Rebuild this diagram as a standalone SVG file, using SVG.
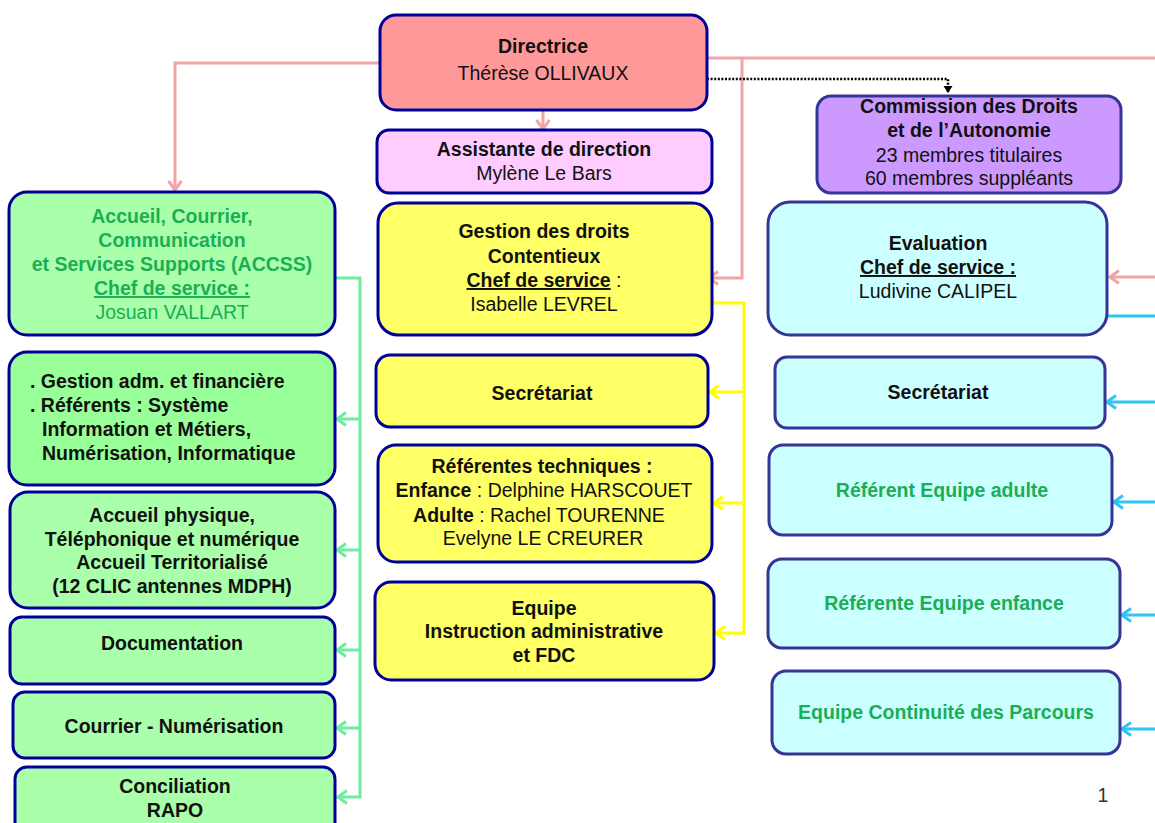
<svg xmlns="http://www.w3.org/2000/svg" width="1155" height="823" viewBox="0 0 1155 823">
<defs>
<style>
text{font-family:"Liberation Sans",Arial,sans-serif;font-size:19.5px;fill:#111}
.b{font-weight:bold}
.c{text-anchor:middle}
.g{fill:#1AAE55}
.u{text-decoration:underline}
.box{stroke:#000099;stroke-width:3}
.box2{stroke:#353597;stroke-width:3}
.red{fill:#FF9999}.pink{fill:#FFCCFF}.vio{fill:#CC99FF}
.gr{fill:#AAFFAA}.gr2{fill:#99FF99}.ye{fill:#FFFF66}.cy{fill:#CCFFFF}
.cn{fill:none;stroke-width:3}
.cp{stroke:#F5A3A3}.cg{stroke:#70EC9E}.cyl{stroke:#FFFF00}.cb{stroke:#2EC4F5}
</style>
<marker id="ap" viewBox="-12 -8 14 16" refX="0" refY="0" markerUnits="userSpaceOnUse" markerWidth="14" markerHeight="16" orient="auto"><path d="M-9,-6.5 L0,0 L-9,6.5" fill="none" stroke="#F5A3A3" stroke-width="3"/></marker>
<marker id="ag" viewBox="-12 -8 14 16" refX="0" refY="0" markerUnits="userSpaceOnUse" markerWidth="14" markerHeight="16" orient="auto"><path d="M-9,-6.5 L0,0 L-9,6.5" fill="none" stroke="#70EC9E" stroke-width="3"/></marker>
<marker id="ay" viewBox="-12 -8 14 16" refX="0" refY="0" markerUnits="userSpaceOnUse" markerWidth="14" markerHeight="16" orient="auto"><path d="M-9,-6.5 L0,0 L-9,6.5" fill="none" stroke="#FFFF00" stroke-width="3"/></marker>
<marker id="ab" viewBox="-12 -8 14 16" refX="0" refY="0" markerUnits="userSpaceOnUse" markerWidth="14" markerHeight="16" orient="auto"><path d="M-9,-6.5 L0,0 L-9,6.5" fill="none" stroke="#2EC4F5" stroke-width="3"/></marker>
<marker id="ak" viewBox="-10 -6 12 12" refX="0" refY="0" markerUnits="userSpaceOnUse" markerWidth="12" markerHeight="12" orient="auto"><path d="M-7,-4.5 L0,0 L-7,4.5 Z" fill="#000"/></marker>
</defs>
<rect width="1155" height="823" fill="#fff"/>

<g id="connectors">
<path class="cn cp" d="M380,63 H175 V190" marker-end="url(#ap)"/>
<path class="cn cp" d="M543,110 V129" marker-end="url(#ap)"/>
<path class="cn cp" d="M707,58 H1155"/>
<path class="cn cp" d="M742,58 V278 H709" marker-end="url(#ap)"/>
<path class="cn cp" d="M1155,277 H1110" marker-end="url(#ap)"/>
<path d="M707,79 H948 V93" fill="none" stroke="#000" stroke-width="2.5" stroke-dasharray="2,1.6" marker-end="url(#ak)"/>
<path class="cn cg" d="M335,278 H360 V797 H338" marker-end="url(#ag)"/>
<path class="cn cg" d="M360,419 H337" marker-end="url(#ag)"/>
<path class="cn cg" d="M360,550 H337" marker-end="url(#ag)"/>
<path class="cn cg" d="M360,650 H337" marker-end="url(#ag)"/>
<path class="cn cg" d="M360,728 H337" marker-end="url(#ag)"/>
<path class="cn cyl" d="M712,303 H744 V633 H716" marker-end="url(#ay)"/>
<path class="cn cyl" d="M744,392 H710" marker-end="url(#ay)"/>
<path class="cn cyl" d="M744,503 H714" marker-end="url(#ay)"/>
<path class="cn cb" d="M1107,316 H1155"/>
<path class="cn cb" d="M1155,402 H1107" marker-end="url(#ab)"/>
<path class="cn cb" d="M1155,502 H1114" marker-end="url(#ab)"/>
<path class="cn cb" d="M1155,615 H1122" marker-end="url(#ab)"/>
<path class="cn cb" d="M1155,729 H1122" marker-end="url(#ab)"/>
</g>

<g id="directrice">
<rect class="box red" x="380" y="15" width="327" height="95" rx="16"/>
<text class="c b" x="543" y="53">Directrice</text>
<text class="c" x="543" y="80">Thérèse OLLIVAUX</text>
</g>

<g id="assistante">
<rect class="box pink" x="377" y="130" width="335" height="63" rx="12"/>
<text class="c b" x="544" y="156">Assistante de direction</text>
<text class="c" x="544" y="180">Mylène Le Bars</text>
</g>

<g id="commission">
<rect class="box2 vio" x="817" y="96" width="304" height="97" rx="14"/>
<text class="c b" x="969" y="113">Commission des Droits</text>
<text class="c b" x="969" y="137">et de l’Autonomie</text>
<text class="c" x="969" y="162">23 membres titulaires</text>
<text class="c" x="969" y="185">60 membres suppléants</text>
</g>

<g id="accss">
<rect class="box gr" x="9" y="192" width="326" height="143" rx="18"/>
<text class="c b g" x="172" y="223">Accueil, Courrier,</text>
<text class="c b g" x="172" y="247">Communication</text>
<text class="c b g" x="172" y="271">et Services Supports (ACCSS)</text>
<text class="c b g u" x="172" y="295">Chef de service :</text>
<text class="c g" x="172" y="319">Josuan VALLART</text>
</g>

<g id="gestion-adm">
<rect class="box gr2" x="9" y="352" width="326" height="133" rx="18"/>
<text class="b" x="30" y="388">. Gestion adm. et financière</text>
<text class="b" x="30" y="412">. Référents : Système</text>
<text class="b" x="42" y="436">Information et Métiers,</text>
<text class="b" x="42" y="460">Numérisation, Informatique</text>
</g>

<g id="accueil-physique">
<rect class="box gr" x="10" y="492" width="325" height="116" rx="18"/>
<text class="c b" x="172" y="522">Accueil physique,</text>
<text class="c b" x="172" y="546">Téléphonique et numérique</text>
<text class="c b" x="172" y="569">Accueil Territorialisé</text>
<text class="c b" x="172" y="593">(12 CLIC antennes MDPH)</text>
</g>

<g id="documentation">
<rect class="box gr" x="10" y="617" width="325" height="67" rx="12"/>
<text class="c b" x="172" y="650">Documentation</text>
</g>

<g id="courrier">
<rect class="box gr" x="13" y="692" width="322" height="66" rx="12"/>
<text class="c b" x="174" y="733">Courrier - Numérisation</text>
</g>

<g id="conciliation">
<rect class="box gr" x="15" y="767" width="320" height="80" rx="12"/>
<text class="c b" x="175" y="793">Conciliation</text>
<text class="c b" x="175" y="817">RAPO</text>
</g>

<g id="gestion-droits">
<rect class="box ye" x="378" y="203" width="334" height="132" rx="20"/>
<text class="c b" x="544" y="238">Gestion des droits</text>
<text class="c b" x="544" y="263">Contentieux</text>
<text class="c" x="544" y="287"><tspan class="b u">Chef de service</tspan> :</text>
<text class="c" x="544" y="311">Isabelle LEVREL</text>
</g>

<g id="secretariat-gd">
<rect class="box ye" x="376" y="355" width="332" height="72" rx="14"/>
<text class="c b" x="542" y="400">Secrétariat</text>
</g>

<g id="referentes">
<rect class="box ye" x="378" y="445" width="334" height="117" rx="18"/>
<text class="c b" x="542" y="473">Référentes techniques :</text>
<text class="c" x="544" y="497"><tspan class="b">Enfance</tspan> : Delphine HARSCOUET</text>
<text class="c" x="539" y="522"><tspan class="b">Adulte</tspan> : Rachel TOURENNE</text>
<text class="c" x="543" y="545">Evelyne LE CREURER</text>
</g>

<g id="equipe-instruction">
<rect class="box ye" x="375" y="582" width="339" height="98" rx="16"/>
<text class="c b" x="544" y="615">Equipe</text>
<text class="c b" x="544" y="638">Instruction administrative</text>
<text class="c b" x="544" y="662">et FDC</text>
</g>

<g id="evaluation">
<rect class="box2 cy" x="768" y="202" width="339" height="133" rx="22"/>
<text class="c b" x="938" y="250">Evaluation</text>
<text class="c b u" x="938" y="274">Chef de service :</text>
<text class="c" x="938" y="298">Ludivine CALIPEL</text>
</g>

<g id="secretariat-eval">
<rect class="box2 cy" x="775" y="357" width="330" height="71" rx="12"/>
<text class="c b" x="938" y="399">Secrétariat</text>
</g>

<g id="referent-adulte">
<rect class="box2 cy" x="769" y="445" width="343" height="90" rx="14"/>
<text class="c b g" x="942" y="497">Référent Equipe adulte</text>
</g>

<g id="referente-enfance">
<rect class="box2 cy" x="768" y="559" width="352" height="89" rx="14"/>
<text class="c b g" x="944" y="610">Référente Equipe enfance</text>
</g>

<g id="equipe-continuite">
<rect class="box2 cy" x="772" y="671" width="348" height="83" rx="14"/>
<text class="c b g" x="946" y="719">Equipe Continuité des Parcours</text>
</g>

<text x="1103" y="802" class="c" style="fill:#333">1</text>
</svg>
